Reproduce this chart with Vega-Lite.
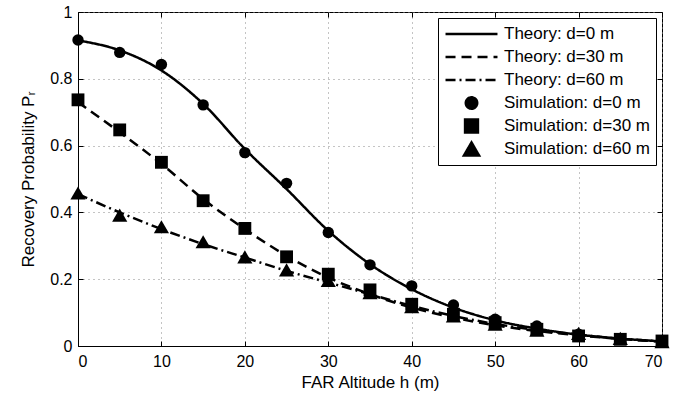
{
  "$schema": "https://vega.github.io/schema/vega-lite/v6.json",
  "width": 584,
  "height": 334,
  "autosize": {"type": "none"},
  "padding": {"left": 78, "top": 12, "right": 31, "bottom": 48},
  "background": "white",
  "config": {
    "view": {"stroke": "black", "strokeWidth": 1},
    "font": "Liberation Sans",
    "axis": {
      "domainColor": "black", "tickColor": "black", "labelColor": "black", "titleColor": "black",
      "labelFont": "Liberation Sans", "labelFontSize": 16, "titleFont": "Liberation Sans",
      "titleFontSize": 17, "titleFontWeight": "normal", "tickSize": -5,
      "gridColor": "#888888", "gridDash": [1, 4], "gridWidth": 1
    },
    "legend": {"orient": "top-right", "offset": 6, "padding": 6, "strokeColor": "black", "fillColor": "white", "cornerRadius": 0,
      "labelFont": "Liberation Sans", "labelFontSize": 17, "labelColor": "black", "labelOffset": 5, "rowPadding": 3, "clipHeight": 20,
      "symbolStrokeWidth": 2.5, "symbolFillColor": "black", "symbolStrokeColor": "black", "symbolOpacity": 1}
  },
  "data": {"values": [
    {"h": 0, "p": 0.915, "s": "Theory: d=0 m"}, {"h": 5, "p": 0.885, "s": "Theory: d=0 m"}, {"h": 10, "p": 0.825, "s": "Theory: d=0 m"},
    {"h": 15, "p": 0.725, "s": "Theory: d=0 m"}, {"h": 20, "p": 0.59, "s": "Theory: d=0 m"}, {"h": 25, "p": 0.47, "s": "Theory: d=0 m"},
    {"h": 30, "p": 0.345, "s": "Theory: d=0 m"}, {"h": 35, "p": 0.245, "s": "Theory: d=0 m"}, {"h": 40, "p": 0.17, "s": "Theory: d=0 m"},
    {"h": 45, "p": 0.115, "s": "Theory: d=0 m"}, {"h": 50, "p": 0.077, "s": "Theory: d=0 m"}, {"h": 55, "p": 0.052, "s": "Theory: d=0 m"},
    {"h": 60, "p": 0.034, "s": "Theory: d=0 m"}, {"h": 65, "p": 0.022, "s": "Theory: d=0 m"}, {"h": 70, "p": 0.014, "s": "Theory: d=0 m"},
    {"h": 0, "p": 0.73, "s": "Theory: d=30 m"}, {"h": 5, "p": 0.64, "s": "Theory: d=30 m"}, {"h": 10, "p": 0.545, "s": "Theory: d=30 m"},
    {"h": 15, "p": 0.44, "s": "Theory: d=30 m"}, {"h": 20, "p": 0.35, "s": "Theory: d=30 m"}, {"h": 25, "p": 0.27, "s": "Theory: d=30 m"},
    {"h": 30, "p": 0.205, "s": "Theory: d=30 m"}, {"h": 35, "p": 0.155, "s": "Theory: d=30 m"}, {"h": 40, "p": 0.115, "s": "Theory: d=30 m"},
    {"h": 45, "p": 0.085, "s": "Theory: d=30 m"}, {"h": 50, "p": 0.062, "s": "Theory: d=30 m"}, {"h": 55, "p": 0.045, "s": "Theory: d=30 m"},
    {"h": 60, "p": 0.032, "s": "Theory: d=30 m"}, {"h": 65, "p": 0.021, "s": "Theory: d=30 m"}, {"h": 70, "p": 0.013, "s": "Theory: d=30 m"},
    {"h": 0, "p": 0.455, "s": "Theory: d=60 m"}, {"h": 5, "p": 0.4, "s": "Theory: d=60 m"}, {"h": 10, "p": 0.35, "s": "Theory: d=60 m"},
    {"h": 15, "p": 0.305, "s": "Theory: d=60 m"}, {"h": 20, "p": 0.265, "s": "Theory: d=60 m"}, {"h": 25, "p": 0.225, "s": "Theory: d=60 m"},
    {"h": 30, "p": 0.19, "s": "Theory: d=60 m"}, {"h": 35, "p": 0.155, "s": "Theory: d=60 m"}, {"h": 40, "p": 0.12, "s": "Theory: d=60 m"},
    {"h": 45, "p": 0.09, "s": "Theory: d=60 m"}, {"h": 50, "p": 0.066, "s": "Theory: d=60 m"}, {"h": 55, "p": 0.048, "s": "Theory: d=60 m"},
    {"h": 60, "p": 0.034, "s": "Theory: d=60 m"}, {"h": 65, "p": 0.022, "s": "Theory: d=60 m"}, {"h": 70, "p": 0.014, "s": "Theory: d=60 m"},
    {"h": 0, "p": 0.916, "s": "Simulation: d=0 m"}, {"h": 5, "p": 0.879, "s": "Simulation: d=0 m"}, {"h": 10, "p": 0.843, "s": "Simulation: d=0 m"},
    {"h": 15, "p": 0.722, "s": "Simulation: d=0 m"}, {"h": 20, "p": 0.579, "s": "Simulation: d=0 m"}, {"h": 25, "p": 0.487, "s": "Simulation: d=0 m"},
    {"h": 30, "p": 0.34, "s": "Simulation: d=0 m"}, {"h": 35, "p": 0.243, "s": "Simulation: d=0 m"}, {"h": 40, "p": 0.18, "s": "Simulation: d=0 m"},
    {"h": 45, "p": 0.123, "s": "Simulation: d=0 m"}, {"h": 50, "p": 0.08, "s": "Simulation: d=0 m"}, {"h": 55, "p": 0.06, "s": "Simulation: d=0 m"},
    {"h": 60, "p": 0.035, "s": "Simulation: d=0 m"}, {"h": 65, "p": 0.022, "s": "Simulation: d=0 m"}, {"h": 70, "p": 0.015, "s": "Simulation: d=0 m"},
    {"h": 0, "p": 0.737, "s": "Simulation: d=30 m"}, {"h": 5, "p": 0.647, "s": "Simulation: d=30 m"}, {"h": 10, "p": 0.55, "s": "Simulation: d=30 m"},
    {"h": 15, "p": 0.435, "s": "Simulation: d=30 m"}, {"h": 20, "p": 0.352, "s": "Simulation: d=30 m"}, {"h": 25, "p": 0.267, "s": "Simulation: d=30 m"},
    {"h": 30, "p": 0.215, "s": "Simulation: d=30 m"}, {"h": 35, "p": 0.168, "s": "Simulation: d=30 m"}, {"h": 40, "p": 0.125, "s": "Simulation: d=30 m"},
    {"h": 45, "p": 0.095, "s": "Simulation: d=30 m"}, {"h": 50, "p": 0.07, "s": "Simulation: d=30 m"}, {"h": 55, "p": 0.05, "s": "Simulation: d=30 m"},
    {"h": 60, "p": 0.03, "s": "Simulation: d=30 m"}, {"h": 65, "p": 0.02, "s": "Simulation: d=30 m"}, {"h": 70, "p": 0.015, "s": "Simulation: d=30 m"},
    {"h": 0, "p": 0.458, "s": "Simulation: d=60 m"}, {"h": 5, "p": 0.392, "s": "Simulation: d=60 m"}, {"h": 10, "p": 0.357, "s": "Simulation: d=60 m"},
    {"h": 15, "p": 0.312, "s": "Simulation: d=60 m"}, {"h": 20, "p": 0.267, "s": "Simulation: d=60 m"}, {"h": 25, "p": 0.228, "s": "Simulation: d=60 m"},
    {"h": 30, "p": 0.196, "s": "Simulation: d=60 m"}, {"h": 35, "p": 0.16, "s": "Simulation: d=60 m"}, {"h": 40, "p": 0.118, "s": "Simulation: d=60 m"},
    {"h": 45, "p": 0.09, "s": "Simulation: d=60 m"}, {"h": 50, "p": 0.065, "s": "Simulation: d=60 m"}, {"h": 55, "p": 0.047, "s": "Simulation: d=60 m"},
    {"h": 60, "p": 0.038, "s": "Simulation: d=60 m"}, {"h": 65, "p": 0.023, "s": "Simulation: d=60 m"}, {"h": 70, "p": 0.013, "s": "Simulation: d=60 m"}
  ]},
  "layer": [
    {
      "transform": [{"filter": "indexof(datum.s, 'Theory') === 0"}],
      "mark": {"type": "line", "color": "black", "strokeWidth": 2.5, "interpolate": "monotone"},
      "encoding": {
        "x": {"field": "h", "type": "quantitative", "scale": {"domain": [0, 70], "nice": false},
          "axis": {"orient": "bottom", "title": "FAR Altitude h (m)", "values": [0, 10, 20, 30, 40, 50, 60, 70], "grid": true, "labelPadding": 12, "titlePadding": 5}},
        "y": {"field": "p", "type": "quantitative", "scale": {"domain": [0, 1], "nice": false},
          "axis": {"orient": "left", "title": "Recovery Probability Pᵣ", "values": [0, 0.2, 0.4, 0.6, 0.8, 1], "format": "~g", "grid": true, "labelPadding": 11, "titlePadding": 12}},
        "strokeDash": {"field": "s", "type": "nominal",
          "legend": {"title": null, "encode": {"symbols": {"update": {"stroke": {"value": "black"}, "strokeWidth": {"value": 2.5}, "fill": {"value": "black"}}}}},
          "scale": {"domain": ["Theory: d=0 m", "Theory: d=30 m", "Theory: d=60 m", "Simulation: d=0 m", "Simulation: d=30 m", "Simulation: d=60 m"],
            "range": [[1, 0], [10, 6], [10, 4, 2, 4], [1, 0], [1, 0], [1, 0]]}},
        "order": {"field": "h", "type": "quantitative"}
      }
    },
    {
      "transform": [{"filter": "indexof(datum.s, 'Simulation') === 0"}],
      "mark": {"type": "point", "filled": true, "color": "black", "opacity": 1, "strokeWidth": 0},
      "encoding": {
        "x": {"field": "h", "type": "quantitative",
          "axis": {"orient": "top", "title": null, "labels": false, "grid": false, "domain": false, "values": [0, 10, 20, 30, 40, 50, 60, 70]}},
        "y": {"field": "p", "type": "quantitative",
          "axis": {"orient": "right", "title": null, "labels": false, "grid": false, "domain": false, "values": [0, 0.2, 0.4, 0.6, 0.8, 1]}},
        "shape": {"field": "s", "type": "nominal",
          "legend": {"title": null, "encode": {"symbols": {"update": {"stroke": {"value": "black"}, "strokeWidth": {"value": 2.5}, "fill": {"value": "black"}}}}},
          "scale": {"domain": ["Theory: d=0 m", "Theory: d=30 m", "Theory: d=60 m", "Simulation: d=0 m", "Simulation: d=30 m", "Simulation: d=60 m"],
            "range": ["stroke", "stroke", "stroke", "circle", "square", "triangle-up"]}},
        "size": {"field": "s", "type": "nominal",
          "legend": {"title": null, "encode": {"symbols": {"update": {"stroke": {"value": "black"}, "strokeWidth": {"value": 2.5}, "fill": {"value": "black"}}}}},
          "scale": {"type": "ordinal", "domain": ["Theory: d=0 m", "Theory: d=30 m", "Theory: d=60 m", "Simulation: d=0 m", "Simulation: d=30 m", "Simulation: d=60 m"],
            "range": [2700, 2700, 2700, 130, 165, 230]}},
        "strokeDash": {"field": "s", "type": "nominal",
          "legend": {"title": null, "encode": {"symbols": {"update": {"stroke": {"value": "black"}, "strokeWidth": {"value": 2.5}, "fill": {"value": "black"}}}}},
          "scale": {"domain": ["Theory: d=0 m", "Theory: d=30 m", "Theory: d=60 m", "Simulation: d=0 m", "Simulation: d=30 m", "Simulation: d=60 m"],
            "range": [[1, 0], [10, 6], [10, 4, 2, 4], [1, 0], [1, 0], [1, 0]]}}
      }
    }
  ]
}
